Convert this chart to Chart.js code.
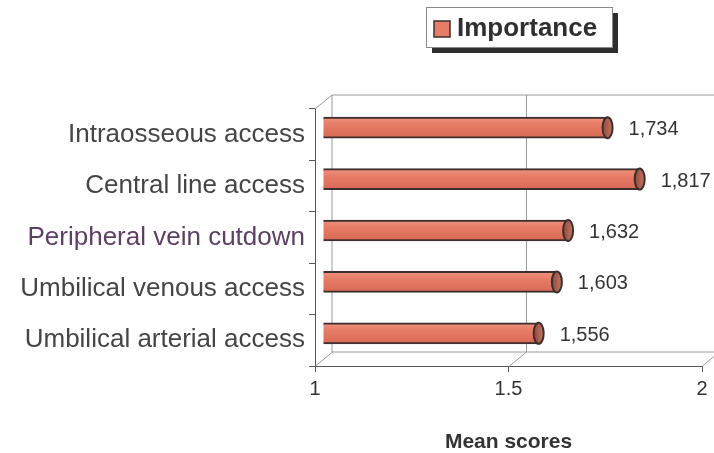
<!DOCTYPE html>
<html>
<head>
<meta charset="utf-8">
<script src="https://cdn.jsdelivr.net/npm/chart.js@4.4.0/dist/chart.umd.min.js"></script>
<style>
  html, body { margin: 0; padding: 0; background: #ffffff; }
  #wrap { width: 714px; height: 453px; }
</style>
</head>
<body>
<div id="wrap"><canvas id="c" width="714" height="453"></canvas></div>
<script>
// Mean importance scores per vascular access technique
const categories = [
  'Intraosseous access',
  'Central line access',
  'Peripheral vein cutdown',
  'Umbilical venous access',
  'Umbilical arterial access'
];
const meanScores = [1.734, 1.817, 1.632, 1.603, 1.556];
const seriesName = 'Importance';
const xTicks = [1, 1.5, 2];
const axisTitle = 'Mean scores';

// Look of the pseudo-3D plot box
const DEPTH_X = 17;
const DEPTH_Y = -14;
const FONT = "'Liberation Sans', Arial, Helvetica, sans-serif";
const BAR_FILL = '#e87c66';
const BAR_EDGE = '#3d2e2e';
const FRAME = '#9a9a9a';

function formatScore(v) {
  return v.toFixed(3).replace('.', ',');
}

// Back wall, left wall and floor of the 3D box
const framePlugin = {
  id: 'frame3d',
  beforeDatasetsDraw(chart) {
    const { ctx, chartArea: a } = chart;
    const xs = chart.scales.x;
    const L = a.left, R = a.right, T = a.top, B = a.bottom;
    ctx.save();
    ctx.strokeStyle = FRAME;
    ctx.lineWidth = 1;
    ctx.beginPath();
    // back wall outline
    ctx.moveTo(L + DEPTH_X, B + DEPTH_Y);
    ctx.lineTo(L + DEPTH_X, T + DEPTH_Y);
    ctx.lineTo(R + DEPTH_X, T + DEPTH_Y);
    ctx.moveTo(L + DEPTH_X, B + DEPTH_Y);
    ctx.lineTo(R + DEPTH_X, B + DEPTH_Y);
    // left wall top edge
    ctx.moveTo(L, T);
    ctx.lineTo(L + DEPTH_X, T + DEPTH_Y);
    // gridlines on the back wall and across the floor
    xTicks.forEach((v, i) => {
      const px = Math.round(xs.getPixelForValue(v)) + 0.5;
      if (i > 0) {
        ctx.moveTo(px + DEPTH_X, T + DEPTH_Y);
        ctx.lineTo(px + DEPTH_X, B + DEPTH_Y);
      }
      ctx.moveTo(px, B);
      ctx.lineTo(px + DEPTH_X, B + DEPTH_Y);
    });
    ctx.stroke();
    ctx.restore();

    // bars sit half way into the box depth
    ctx.save();
    ctx.translate(DEPTH_X / 2, DEPTH_Y / 2);
  },
  afterDatasetsDraw(chart) {
    const { ctx } = chart;
    const meta = chart.getDatasetMeta(0);
    meta.data.forEach((el) => {
      const { x, y, base, height } = el.getProps(['x', 'y', 'base', 'height'], true);
      const ry = height / 2;
      // rounded back end of the cylinder
      ctx.beginPath();
      ctx.ellipse(base, y, 4, ry, 0, Math.PI / 2, Math.PI * 1.5);
      ctx.fillStyle = BAR_FILL;
      ctx.fill();
      ctx.lineWidth = 2;
      ctx.strokeStyle = BAR_EDGE;
      ctx.stroke();
      // visible end face
      ctx.beginPath();
      ctx.ellipse(x, y, 5, ry, 0, 0, Math.PI * 2);
      const g = ctx.createLinearGradient(x - 5, 0, x + 5, 0);
      g.addColorStop(0, '#8e4a3c');
      g.addColorStop(1, '#c57764');
      ctx.fillStyle = g;
      ctx.fill();
      ctx.stroke();
    });
    // value labels
    ctx.fillStyle = '#333333';
    ctx.font = '20px ' + FONT;
    ctx.textAlign = 'left';
    ctx.textBaseline = 'middle';
    meta.data.forEach((el, i) => {
      const { x, y } = el.getProps(['x', 'y'], true);
      ctx.fillText(formatScore(chart.data.datasets[0].data[i]), x + 21, y + 2);
    });
    ctx.restore();
  }
};

// Boxed legend with a drop shadow
const legendPlugin = {
  id: 'boxLegend',
  afterDraw(chart) {
    const { ctx } = chart;
    const bx = 426, by = 7, bw = 186, bh = 40;
    ctx.save();
    ctx.fillStyle = '#2e2e2e';
    ctx.fillRect(bx + 6, by + 6, bw, bh);
    ctx.fillStyle = '#ffffff';
    ctx.fillRect(bx, by, bw, bh);
    ctx.strokeStyle = '#8a8a8a';
    ctx.lineWidth = 1;
    ctx.strokeRect(bx + 0.5, by + 0.5, bw, bh);
    ctx.fillStyle = BAR_FILL;
    ctx.fillRect(434, 21, 16, 16);
    ctx.strokeStyle = BAR_EDGE;
    ctx.lineWidth = 1.5;
    ctx.strokeRect(434, 21, 16, 16);
    ctx.fillStyle = '#2f2f2f';
    ctx.font = 'bold 26px ' + FONT;
    ctx.textAlign = 'left';
    ctx.textBaseline = 'middle';
    ctx.fillText(chart.data.datasets[0].label, 457, 29);
    ctx.restore();
  }
};

function barFill(c) {
  const ys = c.chart.scales.y;
  if (c.type !== 'data' || !ys) return BAR_FILL;
  const yc = ys.getPixelForValue(c.dataIndex);
  if (!Number.isFinite(yc)) return BAR_FILL;
  const g = c.chart.ctx.createLinearGradient(0, yc - 10, 0, yc + 10);
  g.addColorStop(0, '#ee927e');
  g.addColorStop(0.3, '#e87e68');
  g.addColorStop(1, '#d96a55');
  return g;
}

new Chart(document.getElementById('c'), {
  type: 'bar',
  data: {
    labels: categories,
    datasets: [{
      label: seriesName,
      data: meanScores,
      backgroundColor: barFill,
      borderColor: BAR_EDGE,
      borderWidth: 2,
      borderSkipped: 'start',
      barThickness: 21
    }]
  },
  plugins: [framePlugin, legendPlugin],
  options: {
    indexAxis: 'y',
    responsive: false,
    animation: false,
    events: [],
    layout: { padding: { left: 0, right: 12, top: 109, bottom: 0 } },
    plugins: {
      legend: { display: false },
      tooltip: { enabled: false }
    },
    scales: {
      x: {
        type: 'linear',
        min: 1,
        max: 2,
        afterBuildTicks(scale) {
          scale.ticks = xTicks.map(v => ({ value: v }));
        },
        afterFit(scale) { scale.height = 87; },
        grid: { display: true, drawOnChartArea: false, drawTicks: true, tickLength: 6, color: '#555555' },
        border: { display: true, color: '#555555', width: 1 },
        ticks: {
          color: '#333333',
          padding: 5,
          font: { family: FONT, size: 20 },
          callback: v => String(v)
        },
        title: {
          display: true,
          text: axisTitle,
          color: '#333333',
          font: { family: FONT, size: 21, weight: 'bold' },
          padding: { top: 0, bottom: -2 }
        }
      },
      y: {
        afterFit(scale) { scale.width = 315; },
        grid: { display: true, drawOnChartArea: false, drawTicks: true, tickLength: 6, color: '#555555' },
        border: { display: true, color: '#555555', width: 1 },
        ticks: {
          padding: 4,
          color: c => (c.index === 2 ? '#5e4064' : '#454545'),
          font: { family: FONT, size: 26 }
        }
      }
    }
  }
});
</script>
</body>
</html>
